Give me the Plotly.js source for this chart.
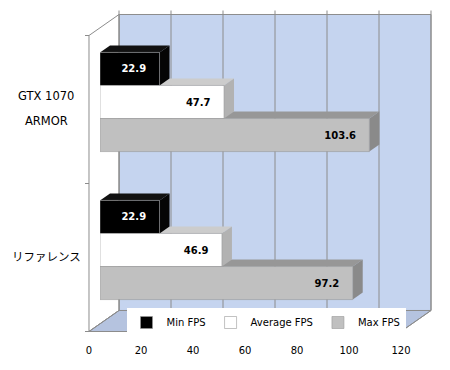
<!DOCTYPE html>
<html><head><meta charset="utf-8">
<script src="https://cdn.plot.ly/plotly-3.0.1.min.js"></script>
<style>html,body{margin:0;padding:0;background:#fff;}</style>
</head><body><div id="chart" style="width:450px;height:370px;"></div>
<script>
// ---- data ----
const categories = ['GTX 1070<br>ARMOR', 'リファレンス'];
const seriesNames = ['Min FPS', 'Average FPS', 'Max FPS'];
const minFps = [22.9, 22.9];
const avgFps = [47.7, 46.9];
const maxFps = [103.6, 97.2];
const xTicks = [0, 20, 40, 60, 80, 100, 120];

// ---- styling ----
const frontColors = ['#000000', '#ffffff', '#c0c0c0'];
const topColors = ['#111111', '#cccccc', '#979797'];
const sideColors = ['#050505', '#b2b2b2', '#8a8a8a'];
const textColors = ['#ffffff', '#000000', '#000000'];
const W = 450, H = 370;
const PL = 100, PR = 412, PT = 28, PB = 324;   // bar front plane (plot area) in px
const XMAX = 120;
const BARGAP = 0.33;
const FRONT = [-11, 7.5], BACK = [19, -13.5], DEPTH = [10, -7];
const gridCol = '#8c8c8c';
const fontLat = 'DejaVu Sans, Noto Sans CJK JP, sans-serif';

const pxPerX = (PR - PL) / XMAX;
const pxPerY = (PB - PT) / 2;
const xpx = v => PL + v * pxPerX;
const fx = px => (px - PL) / (PR - PL);
const fy = py => (PB - py) / (PB - PT);

const seriesVals = [minFps, avgFps, maxFps];
const yIdx = categories.map((c, i) => i);

const traces = seriesVals.map((vals, k) => ({
  type: 'bar', orientation: 'h', name: seriesNames[k],
  x: vals, y: yIdx,
  marker: {color: frontColors[k], line: {color: '#999999', width: 0.6}},
  texttemplate: '<b>%{x:.1f}\u00a0\u00a0\u00a0</b>',
  textposition: 'inside', insidetextanchor: 'end', textangle: 0,
  constraintext: 'none',
  textfont: {family: fontLat, size: 10, color: textColors[k]},
  hoverinfo: 'skip'
}));

const shapes = [];
function pPath(pts) {
  return 'M' + pts.map(p => fx(p[0]).toFixed(5) + ',' + fy(p[1]).toFixed(5)).join('L') + 'Z';
}
function pLine(x0, y0, x1, y1) {
  shapes.push({type: 'line', xref: 'paper', yref: 'paper', layer: 'below',
    x0: fx(x0), y0: fy(y0), x1: fx(x1), y1: fy(y1), line: {color: gridCol, width: 1}});
}
// back wall
shapes.push({type: 'path', xref: 'paper', yref: 'paper', layer: 'below',
  path: pPath([[xpx(0) + BACK[0], PT + BACK[1]], [xpx(XMAX) + BACK[0], PT + BACK[1]],
               [xpx(XMAX) + BACK[0], PB + BACK[1]], [xpx(0) + BACK[0], PB + BACK[1]]]),
  fillcolor: '#c5d4ef', line: {color: gridCol, width: 1}});
// side wall
shapes.push({type: 'path', xref: 'paper', yref: 'paper', layer: 'below',
  path: pPath([[PL + FRONT[0], PT + FRONT[1]], [PL + BACK[0], PT + BACK[1]],
               [PL + BACK[0], PB + BACK[1]], [PL + FRONT[0], PB + FRONT[1]]]),
  fillcolor: '#ffffff', line: {color: gridCol, width: 1}});
// floor
shapes.push({type: 'path', xref: 'paper', yref: 'paper', layer: 'below',
  path: pPath([[xpx(0) + FRONT[0], PB + FRONT[1]], [xpx(XMAX) + FRONT[0], PB + FRONT[1]],
               [xpx(XMAX) + BACK[0], PB + BACK[1]], [xpx(0) + BACK[0], PB + BACK[1]]]),
  fillcolor: '#b5c3df', line: {color: gridCol, width: 1}});
// grid lines on back wall and floor
xTicks.forEach(v => {
  pLine(xpx(v) + BACK[0], PT + BACK[1] - 4, xpx(v) + BACK[0], PB + BACK[1]);
  pLine(xpx(v) + BACK[0], PB + BACK[1], xpx(v) + FRONT[0], PB + FRONT[1]);
});
// category tick marks on side wall front edge
for (let b = -0.5; b <= categories.length - 0.5; b += 1) {
  const py = PT + (b + 0.5) * pxPerY + FRONT[1];
  pLine(PL + FRONT[0] - 4, py, PL + FRONT[0], py);
}

// 3D faces of bars (drawn beneath the bar fronts), back to front order
const bw = (1 - BARGAP) / seriesVals.length;
const dxu = DEPTH[0] / pxPerX, dyu = -DEPTH[1] / pxPerY;
[2, 1, 0].forEach(k => {
  seriesVals[k].forEach((v, i) => {
    const yc = i + (k - (seriesVals.length - 1) / 2) * bw;
    const yt = yc - bw / 2, yb = yc + bw / 2;
    const p = pts => 'M' + pts.map(q => q[0] + ',' + q[1]).join('L') + 'Z';
    shapes.push({type: 'path', xref: 'x', yref: 'y', layer: 'below',
      path: p([[0, yt], [v, yt], [v + dxu, yt - dyu], [dxu, yt - dyu]]),
      fillcolor: topColors[k], line: {width: 0}});
    shapes.push({type: 'path', xref: 'x', yref: 'y', layer: 'below',
      path: p([[v, yt], [v, yb], [v + dxu, yb - dyu], [v + dxu, yt - dyu]]),
      fillcolor: sideColors[k], line: {width: 0}});
  });
});

// category labels
const annotations = [];
categories.forEach((c, i) => {
  const lines = c.split('<br>');
  lines.forEach((ln, j) => {
    annotations.push({xref: 'paper', yref: 'y', x: fx(46), y: i, text: ln,
      showarrow: false, xanchor: 'center', yanchor: 'middle',
      yshift: -6.5 + ((lines.length - 1) / 2 - j) * 25,
      font: {family: fontLat, size: 11.5, color: '#000'}});
  });
});

const layout = {
  width: W, height: H,
  margin: {l: PL, r: W - PR, t: PT, b: H - PB, pad: 0},
  paper_bgcolor: '#ffffff', plot_bgcolor: 'rgba(0,0,0,0)',
  barmode: 'group', bargap: BARGAP, bargroupgap: 0,
  showlegend: true, hovermode: false,
  xaxis: {range: [0, XMAX], tickvals: xTicks, ticks: '', showgrid: false, zeroline: false,
    showline: false, ticklabelshift: FRONT[0], ticklabelstandoff: 19,
    tickfont: {family: fontLat, size: 10, color: '#000'}, fixedrange: true},
  yaxis: {range: [categories.length - 0.5, -0.5], showticklabels: false, ticks: '',
    showgrid: false, zeroline: false, showline: false, fixedrange: true},
  legend: {orientation: 'h', x: fx(266), xanchor: 'center', y: fy(308), yanchor: 'top',
    bgcolor: '#ffffff', borderwidth: 0, traceorder: 'normal', itemclick: false,
    font: {family: fontLat, size: 10, color: '#000'}},
  shapes: shapes, annotations: annotations
};

Plotly.newPlot('chart', traces, layout, {displayModeBar: false, staticPlot: true});
</script></body></html>
